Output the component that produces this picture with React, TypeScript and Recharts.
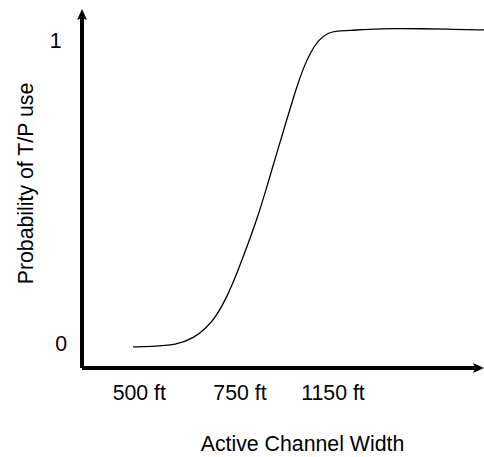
import React from "react";
import { LineChart, Line, XAxis, YAxis, Label } from "recharts";

// Position along the (schematic, non-linear) channel-width axis, 0..100
const widthPos = [12.69, 16.92, 23.56, 27.69, 31.02, 33.51, 36.0, 38.48, 40.97, 43.46, 45.77, 48.43, 50.92, 53.41, 55.05, 56.72, 58.78, 61.27, 63.36, 66.67, 70.82, 78.28, 84.08, 92.36, 100];
// Probability of T/P use
const probability = [-0.013, -0.012, -0.0066, 0.0155, 0.0502, 0.0909, 0.1504, 0.2281, 0.3157, 0.4066, 0.506, 0.627, 0.737, 0.847, 0.908, 0.958, 1.002, 1.026, 1.032, 1.033, 1.037, 1.04, 1.039, 1.037, 1.035];

const xTickValues = [14.25, 39.3, 62.44];
const xTickLabels = ["500 ft", "750 ft", "1150 ft"];
const yTickValues = [0, 1];
const yTickLabels = ["0", "1"];

const data = widthPos.map((x, i) => ({ x, p: probability[i] }));

const FONT = "'Liberation Sans', Arial, sans-serif";
const FS = 21.3;

const XTick = (props: any) => {
  const { x, y, payload, index } = props;
  return (
    <text x={x} y={y} dy={32} textAnchor="middle" fontFamily={FONT} fontSize={FS} fill="#000">
      {xTickLabels[index] ?? payload.value}
    </text>
  );
};

const YTick = (props: any) => {
  const { x, y, payload } = props;
  const i = yTickValues.indexOf(payload.value);
  const shift = payload.value === 1 ? -20.4 : -15;
  return (
    <text x={x + shift} y={y} dy="0.355em" textAnchor="end" fontFamily={FONT} fontSize={FS} fill="#000">
      {yTickLabels[i]}
    </text>
  );
};

export default function App() {
  return (
    <div style={{ width: 484, height: 457 }}>
      <style>{`body{margin:0}`}</style>
      <LineChart width={484} height={457} data={data} margin={{ top: 9, right: 0, bottom: 0, left: 0 }}>
        <defs>
          <marker id="axArrow" viewBox="0 0 11 10" refX={11} refY={5} markerWidth={11} markerHeight={10} markerUnits="userSpaceOnUse" orient="auto-start-reverse">
            <path d="M0,0 L11,5 L0,10 L2,5 Z" fill="#000" />
          </marker>
        </defs>
        <XAxis
          dataKey="x"
          type="number"
          domain={[0, 100]}
          ticks={xTickValues}
          tick={<XTick />}
          tickLine={false}
          tickSize={0}
          tickMargin={0}
          height={89}
          interval={0}
          axisLine={{ stroke: "#000", strokeWidth: 4, strokeDasharray: "396 200", strokeLinecap: "butt", markerEnd: "url(#axArrow)" } as any}
        >
          <Label
            content={(p: any) => {
              const vb = p.viewBox || { x: 82, y: 368, width: 402 };
              return (
                <text x={vb.x + vb.width / 2 + 19.5} y={vb.y + 83} textAnchor="middle" fontFamily={FONT} fontSize={FS} fill="#000">
                  Active Channel Width
                </text>
              );
            }}
          />
        </XAxis>
        <YAxis
          type="number"
          domain={[-0.0826, 1.1041]}
          ticks={yTickValues}
          tick={<YTick />}
          tickLine={false}
          tickSize={0}
          tickMargin={0}
          width={82}
          interval={0}
          axisLine={{ stroke: "#000", strokeWidth: 4, strokeDasharray: "0 6 500", strokeLinecap: "butt", markerStart: "url(#axArrow)" } as any}
        >
          <Label
            content={(p: any) => {
              const vb = p.viewBox || { x: 0, y: 9, width: 82, height: 359 };
              const cx = vb.x + 33;
              const cy = vb.y + vb.height / 2 - 5;
              return (
                <text x={cx} y={cy} transform={`rotate(-90, ${cx}, ${cy})`} textAnchor="middle" fontFamily={FONT} fontSize={FS} fill="#000">
                  Probability of T/P use
                </text>
              );
            }}
          />
        </YAxis>
        <Line type="basis" dataKey="p" stroke="#000" strokeWidth={1.3} dot={false} activeDot={false} isAnimationActive={false} />
      </LineChart>
    </div>
  );
}
